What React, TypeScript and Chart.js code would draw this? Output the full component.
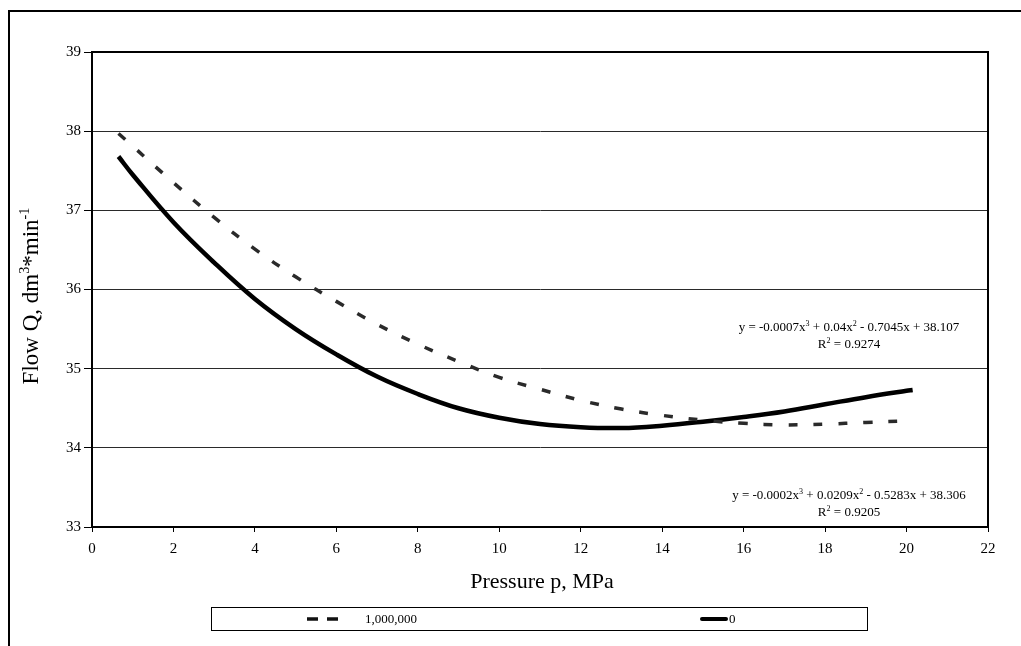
import React, { useEffect, useRef } from "react";
import { Chart, registerables } from "chart.js";

Chart.register(...registerables);

// ---- data ----
const seriesLabels = ["1,000,000", "0"];

const dashedX = [0.65, 1, 2, 3, 4, 5, 6, 7, 8, 9, 10, 11, 12, 13, 14, 15, 16, 17, 18, 19, 19.95];
const dashedY = [37.97, 37.81, 37.35, 36.91, 36.51, 36.16, 35.85, 35.56, 35.31, 35.09, 34.89, 34.74, 34.6, 34.49, 34.41, 34.35, 34.31, 34.29, 34.3, 34.32, 34.34];

const solidX = [0.65, 1, 2, 3, 4, 5, 6, 7, 8, 9, 10, 11, 12, 13, 14, 15, 16, 17, 18, 19, 20, 20.15];
const solidY = [37.68, 37.45, 36.85, 36.34, 35.88, 35.5, 35.18, 34.9, 34.68, 34.5, 34.38, 34.3, 34.26, 34.25, 34.28, 34.33, 34.39, 34.46, 34.55, 34.64, 34.72, 34.73];

const xMin = 0;
const xMax = 22;
const xStep = 2;
const yMin = 33;
const yMax = 39;
const yStep = 1;

const xTitle = "Pressure p, MPa";
type Seg = { t: string; sup?: boolean };
const yTitle: Seg[] = [{ t: "Flow Q, dm" }, { t: "3", sup: true }, { t: "*min" }, { t: "-1", sup: true }];

const eqDashed: Seg[] = [
  { t: "y = -0.0002x" }, { t: "3", sup: true }, { t: " + 0.0209x" }, { t: "2", sup: true }, { t: " - 0.5283x + 38.306" },
];
const r2Dashed: Seg[] = [{ t: "R" }, { t: "2", sup: true }, { t: " = 0.9205" }];
const eqSolid: Seg[] = [
  { t: "y = -0.0007x" }, { t: "3", sup: true }, { t: " + 0.04x" }, { t: "2", sup: true }, { t: " - 0.7045x + 38.107" },
];
const r2Solid: Seg[] = [{ t: "R" }, { t: "2", sup: true }, { t: " = 0.9274" }];

const FONT = "'Liberation Serif', 'Times New Roman', serif";

function fontStr(size: number) {
  return `${size}px ${FONT}`;
}

function richWidth(ctx: CanvasRenderingContext2D, segs: Seg[], size: number) {
  let w = 0;
  for (const s of segs) {
    ctx.font = fontStr(s.sup ? size * 0.62 : size);
    w += ctx.measureText(s.t).width;
  }
  return w;
}

function drawRich(ctx: CanvasRenderingContext2D, segs: Seg[], x: number, y: number, size: number) {
  const w = richWidth(ctx, segs, size);
  let cx = x - w / 2;
  ctx.textBaseline = "alphabetic";
  ctx.textAlign = "left";
  for (const s of segs) {
    const sz = s.sup ? size * 0.62 : size;
    ctx.font = fontStr(sz);
    ctx.fillText(s.t, cx, s.sup ? y - size * 0.4 : y);
    cx += ctx.measureText(s.t).width;
  }
}

const decorPlugin = {
  id: "decor",
  afterDraw(chart: any) {
    const ctx: CanvasRenderingContext2D = chart.ctx;
    const a = chart.chartArea;
    ctx.save();
    // plot frame
    ctx.strokeStyle = "#000";
    ctx.lineWidth = 2;
    ctx.strokeRect(a.left, a.top, a.right - a.left, a.bottom - a.top);

    // outer frame (left and top edges visible)
    ctx.beginPath();
    ctx.moveTo(9, 700);
    ctx.lineTo(9, 11);
    ctx.lineTo(1100, 11);
    ctx.stroke();

    ctx.fillStyle = "#000";
    // axis titles
    ctx.font = fontStr(22);
    ctx.textAlign = "center";
    ctx.textBaseline = "alphabetic";
    ctx.fillText(xTitle, (a.left + a.right) / 2 + 2, 588);

    ctx.save();
    ctx.translate(38, 296);
    ctx.rotate(-Math.PI / 2);
    drawRich(ctx, yTitle, 0, 0, 23);
    ctx.restore();

    // trendline equations
    drawRich(ctx, eqSolid, 849, 331, 13);
    drawRich(ctx, r2Solid, 849, 348, 13);
    drawRich(ctx, eqDashed, 849, 499, 13);
    drawRich(ctx, r2Dashed, 849, 516, 13);

    // legend box
    ctx.lineWidth = 1;
    ctx.strokeRect(211.5, 607.5, 656, 23);
    const ly = 619;
    ctx.lineWidth = 3.5;
    ctx.strokeStyle = "#111";
    ctx.setLineDash([11, 9]);
    ctx.beginPath();
    ctx.moveTo(307, ly);
    ctx.lineTo(343, ly);
    ctx.stroke();
    ctx.setLineDash([]);
    ctx.lineWidth = 4;
    ctx.strokeStyle = "#000";
    ctx.lineCap = "round";
    ctx.beginPath();
    ctx.moveTo(702, ly);
    ctx.lineTo(726, ly);
    ctx.stroke();
    ctx.font = fontStr(13);
    ctx.textAlign = "left";
    ctx.textBaseline = "middle";
    ctx.fillText(seriesLabels[0], 365, ly + 1);
    ctx.fillText(seriesLabels[1], 729, ly + 1);
    ctx.restore();
  },
};

export default function App() {
  const ref = useRef<HTMLCanvasElement | null>(null);

  useEffect(() => {
    if (!ref.current) return;
    const chart = new Chart(ref.current, {
      type: "scatter",
      data: {
        datasets: [
          {
            label: seriesLabels[0],
            data: dashedX.map((x, i) => ({ x, y: dashedY[i] })),
            showLine: true,
            pointRadius: 0,
            borderColor: "#2a2a2a",
            borderWidth: 3.5,
            borderDash: [9, 16],
            borderCapStyle: "butt",
            tension: 0.4,
            fill: false,
          },
          {
            label: seriesLabels[1],
            data: solidX.map((x, i) => ({ x, y: solidY[i] })),
            showLine: true,
            pointRadius: 0,
            borderColor: "#000",
            borderWidth: 4.5,
            tension: 0.4,
            fill: false,
          },
        ],
      },
      options: {
        animation: false,
        responsive: false,
        devicePixelRatio: 1,
        layout: { padding: { left: 0, top: 52, right: 33, bottom: 0 } },
        plugins: {
          legend: { display: false },
          tooltip: { enabled: false },
          title: { display: false },
        },
        scales: {
          x: {
            type: "linear",
            min: xMin,
            max: xMax,
            afterFit: (s: any) => {
              s.height = 119;
            },
            ticks: {
              stepSize: xStep,
              color: "#000",
              font: { family: FONT, size: 15 },
              padding: 8,
              maxRotation: 0,
            },
            grid: {
              drawOnChartArea: false,
              drawTicks: true,
              tickLength: 5,
              tickColor: "#000",
              color: "#000",
            },
            border: { display: true, color: "#000", width: 2 },
          },
          y: {
            type: "linear",
            min: yMin,
            max: yMax,
            afterFit: (s: any) => {
              s.width = 92;
            },
            ticks: {
              stepSize: yStep,
              color: "#000",
              font: { family: FONT, size: 15 },
              padding: 3,
            },
            grid: {
              drawOnChartArea: true,
              drawTicks: true,
              tickLength: 8,
              tickColor: "#000",
              color: "#2a2a2a",
              lineWidth: 1,
            },
            border: { display: true, color: "#000", width: 2 },
          },
        },
      },
      plugins: [decorPlugin],
    } as any);
    return () => chart.destroy();
  }, []);

  return (
    <div style={{ position: "absolute", left: 0, top: 0, width: 1021, height: 646, background: "#fff" }}>
      <canvas ref={ref} width={1021} height={646} style={{ width: 1021, height: 646, display: "block" }} />
    </div>
  );
}
